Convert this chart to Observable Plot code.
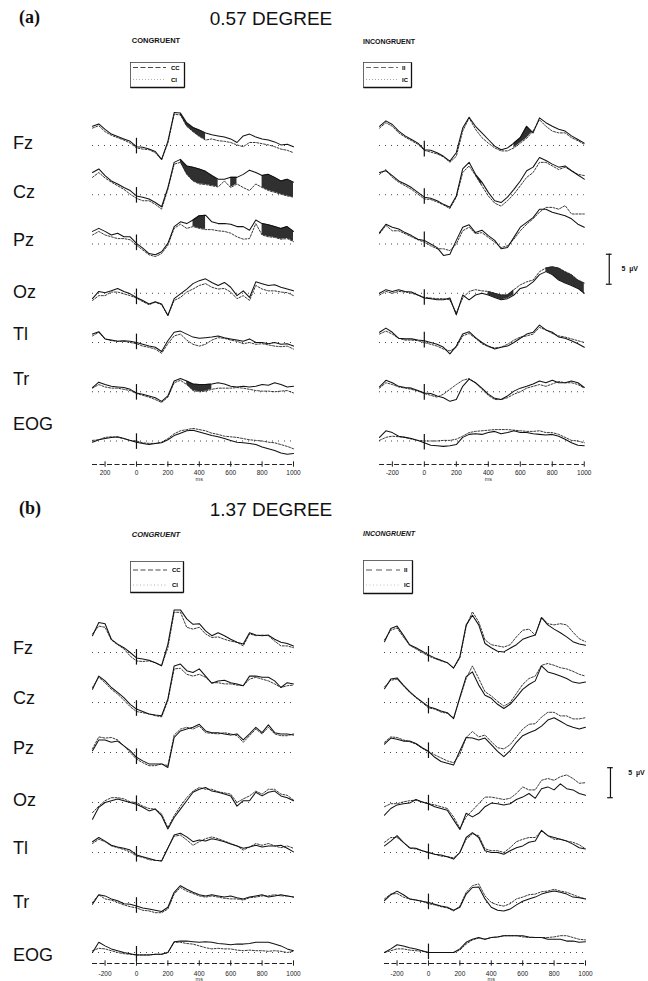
<!DOCTYPE html>
<html><head><meta charset="utf-8">
<script src="https://cdn.jsdelivr.net/npm/d3@7"></script>
<script src="https://cdn.jsdelivr.net/npm/@observablehq/plot@0.6"></script>
<style>
html,body{margin:0;padding:0;background:#fff;}
body{width:648px;height:981px;overflow:hidden;position:relative;font-family:"Liberation Sans",Arial,Helvetica,sans-serif;color:#111;}
#root{position:absolute;left:0;top:0;width:648px;height:981px;}
.t{position:absolute;white-space:nowrap;line-height:1;}
.abs{position:absolute;}
.abs svg{display:block;}
</style></head><body><div id="root"></div>
<script>
// ---------------- DATA ----------------
const T = [-280,-240,-200,-160,-120,-80,-40,0,40,80,120,160,200,240,280,320,360,400,440,480,520,560,600,640,680,720,760,800,840,880,920,960,1000];
const ROWS = ["Fz","Cz","Pz","Oz","Tl","Tr","EOG"];
const TICKS = [-200,0,200,400,600,800,1000];
const TICK_LABELS_A_LEFT = ["200","0","200","400","600","800","1000"];
const TICK_LABELS = ["-200","0","200","400","600","800","1000"];
const CAL_UV = 5;

// (a) 0.57 degree, congruent: CC (solid) and CI (dotted), µV
const aCC = [
 [3.2,3.6,2.7,1.9,1.5,1.1,0.7,-0.2,-0.3,-0.6,-1.0,-2.3,0.7,5.5,5.4,3.8,3.0,2.6,2.1,1.8,1.6,1.4,1.1,0.5,1.6,1.9,1.4,1.1,0.9,0.6,0.1,0.2,-0.2],
 [3.7,4.3,3.2,2.3,1.8,1.2,0.7,-0.2,-0.4,-0.7,-1.3,-2.0,1.2,5.4,5.9,4.8,4.6,4.3,3.9,3.2,2.6,2.6,2.9,2.9,3.4,4.1,3.7,3.2,3.4,2.9,2.3,2.6,2.1],
 [2.1,2.6,2.1,1.5,1.8,1.2,1.2,0.1,-0.7,-1.6,-1.8,-1.3,0.1,2.9,3.7,3.4,4.0,4.7,4.8,3.7,3.4,3.4,3.3,2.9,2.9,2.3,4.0,3.4,3.2,2.9,2.6,2.9,2.1],
 [-0.9,0.3,0.1,0.4,0.8,0.3,-0.1,-0.7,-1.2,-1.8,-1.4,-1.8,-3.7,-0.9,-0.1,0.7,1.6,2.1,2.4,1.8,1.3,1.8,1.0,-0.4,0.4,-0.7,1.9,1.6,1.3,1.4,1.0,0.7,0.4],
 [1.4,1.8,0.6,0.4,0.2,0.3,0.2,0,-0.3,-0.6,-0.8,-1.5,0.3,1.7,1.9,1.4,0.9,0.7,0.8,0.9,1.1,0.8,0.6,0.4,0.2,0.6,0,0,-0.2,0,-0.3,-0.2,-0.6],
 [0.7,1.6,1.2,0.9,0.8,0.7,0.4,-0.2,-0.4,-0.7,-1.0,-1.6,-0.7,1.8,2.2,1.8,1.3,1.2,1.2,1.3,1.5,1.3,0.9,0.8,0.9,0.8,0.9,1.2,1.1,1.5,1.2,0.8,0.9],
 [-0.2,0.2,0.4,0.6,0.7,0.4,0.1,-0.2,-0.4,-0.6,-0.4,-0.3,0.2,0.9,1.3,1.7,1.8,1.5,1.2,0.9,0.7,0.4,0.1,-0.2,-0.3,-0.4,-0.6,-1.0,-1.3,-1.6,-2.0,-2.2,-2.1]
];
const aCI = [
 [2.9,3.3,2.3,1.7,1.3,0.9,0.4,-0.4,-0.6,-0.7,-1.2,-2.4,0.4,5.2,5.1,3.2,2.3,1.5,0.9,1.1,0.8,0.7,0.5,0.1,-0.2,0.5,0.5,0.3,0.1,-0.2,-0.6,-0.8,-1.2],
 [2.9,3.7,2.8,2.1,1.5,0.9,0.1,-0.6,-1.0,-1.0,-1.6,-2.4,0.9,5.1,5.4,3.4,2.3,1.8,1.7,1.5,1.3,2.3,1.2,1.8,1.2,0.7,1.8,1.2,0.7,0.4,0.1,-0.2,-0.4],
 [1.5,2.1,1.5,1.2,0.9,0.9,0.7,-0.2,-1.0,-1.8,-2.1,-1.6,-0.2,2.6,3.3,2.6,2.9,2.6,2.4,2.4,2.2,2.1,1.8,1.2,0.8,0.9,3.4,1.5,1.2,1.1,0.8,0.9,0.4],
 [-1.2,-0.4,-0.4,0.2,0.2,-0.1,-0.4,-0.8,-1.4,-1.9,-1.5,-1.9,-3.7,-1.2,-0.7,0.2,0.7,1.3,1.6,1.0,0.7,0.8,0.2,-0.9,-0.4,-1.2,1.3,0.7,0.4,0.4,0.2,0.1,-0.4],
 [1.1,1.7,0.6,0.3,0.2,0.2,0,-0.2,-0.6,-0.8,-1.1,-1.8,-0.2,1.1,1.4,0.4,-0.3,-0.6,-0.3,0.4,0.8,0.7,0.4,0.2,-0.2,0,-0.3,-0.2,-0.4,-0.6,-0.7,-0.6,-1.1],
 [0.6,1.2,0.8,0.6,0.6,0.4,0.2,-0.3,-0.6,-0.9,-1.3,-1.8,-0.9,1.5,1.9,1.2,0.2,0,0.1,0.4,0.6,0.6,0.6,0.7,0.6,0.4,0.2,0.1,0.1,0,0.1,0.2,-0.2],
 [0.1,0.2,0.6,0.7,0.6,0.4,0.1,0,-0.3,-0.4,-0.4,-0.2,0.4,1.2,1.7,1.9,2.1,1.9,1.7,1.3,1.1,0.8,0.7,0.6,0.4,0.2,0.1,0,-0.2,-0.3,-0.6,-0.9,-1.3]
];
// (a) 0.57 degree, incongruent: II (solid) and IC (dotted)
const aII = [
 [3.2,4.1,3.5,2.4,1.6,1.0,0.4,-0.7,-0.8,-1.2,-1.8,-2.6,-1.2,2.9,4.7,3.2,2.1,1.0,-0.1,-0.7,-0.4,0.4,1.3,3.2,2.1,4.6,3.8,3.2,2.7,2.4,1.6,1.0,0.4],
 [3.7,4.0,3.2,2.3,1.8,1.2,0.4,-0.4,-0.6,-1.0,-1.6,-2.1,-0.2,4.3,5.4,3.4,2.1,0.4,-1.0,-1.3,-0.4,0.9,2.3,4.0,4.6,6.2,5.7,5.1,4.6,4.8,4.0,3.3,2.6],
 [1.9,3.3,2.8,2.5,1.9,1.4,0.8,0.6,0,-0.6,-1.9,-1.7,0.6,2.8,3.2,1.9,2.3,1.4,0.6,-0.8,-0.6,1.1,2.8,3.6,4.4,5.8,5.8,5.3,5.0,4.7,4.2,3.3,2.8],
 [0,0.6,0.3,0.6,0.3,0.2,-0.3,-0.8,-0.9,-1.1,-1.1,-0.8,-3.6,-0.3,-1.1,-0.3,0,-0.3,-0.7,-1.1,-0.9,-0.3,0.8,1.1,1.9,3.1,3.6,3.1,2.2,1.7,1.3,0.8,0],
 [1.7,2.4,1.7,0.7,0.6,0.6,0.4,0.3,0,-0.3,-0.8,-1.9,-0.6,1.4,1.8,0.8,0,-0.6,-1.1,-0.8,-0.6,0,0.7,1.4,1.7,2.9,2.1,1.7,0.9,0.7,0.3,-0.2,-0.8],
 [0.8,1.9,1.5,0.9,0.7,0.6,0.2,-0.2,-0.3,-0.7,-1.0,-1.6,-1.3,0.9,2.1,1.5,0.6,-0.4,-1.1,-1.3,-0.7,0.1,0.6,0.9,1.3,1.8,1.5,1.9,1.5,1.5,1.8,1.5,0.7],
 [0.6,1.7,1.4,0.8,0.6,0.4,0.1,-0.3,-0.7,-0.8,-0.9,-0.8,-0.6,0.6,1.1,1.2,1.1,1.4,1.6,1.2,1.4,1.7,1.4,1.4,1.2,1.1,1.0,1.1,0.8,0.3,-0.3,-0.7,-0.8]
];
const aIC = [
 [2.9,3.8,3.2,2.1,1.4,0.8,0.2,-0.8,-1.1,-1.4,-1.9,-2.8,-1.8,2.4,4.6,2.7,1.3,0.4,-0.4,-0.9,-0.9,-0.4,0.4,1.2,2.4,4.3,3.2,2.4,2.1,2.1,1.3,0.8,0.2],
 [3.4,4.2,2.9,2.1,1.5,0.9,0.1,-0.7,-0.8,-1.2,-1.7,-2.3,-0.4,3.7,4.8,3.2,1.5,-0.2,-1.4,-1.9,-1.0,0.1,1.5,2.9,3.7,5.4,5.4,4.8,4.2,4.6,4.0,3.4,3.2],
 [1.7,3.1,2.2,2.2,1.7,1.2,0.7,0.3,-0.3,-0.8,-0.8,-1.1,0,2.2,2.8,1.7,1.9,1.1,0.3,-0.6,-0.3,0.8,2.2,3.3,4.2,5.3,6.1,6.1,5.8,6.4,5.0,5.0,5.0],
 [-0.3,0.3,0,0.3,0.2,0,-0.3,-0.7,-0.8,-0.9,-0.9,-1.1,-3.3,-0.8,0.3,0.6,0.4,0.3,0,-0.3,-0.3,0.6,1.4,1.9,2.2,3.6,4.2,4.4,4.2,3.6,3.1,2.2,1.7],
 [1.4,1.9,1.4,0.7,0.4,0.4,0.3,0,-0.3,-0.6,-1.1,-1.4,-0.8,1.1,1.5,0.7,-0.2,-0.7,-0.9,-0.8,-0.3,0.4,0.9,1.1,1.4,2.5,2.1,1.5,1.1,0.9,0.6,0.3,0],
 [0.6,1.5,1.2,0.8,0.6,0.4,0.1,-0.3,-0.6,-0.9,-0.4,0.4,1.2,1.9,2.2,1.5,0.4,-0.6,-1.3,-1.3,-1.0,-0.4,0,0.6,0.9,1.2,0.9,1.3,1.7,1.5,1.5,1.2,0.6],
 [0.1,0.6,0.8,0.7,0.6,0.3,0.1,0,0,0,0.1,0.1,0.3,0.8,1.4,1.6,1.7,1.8,1.9,1.9,1.9,1.8,1.7,1.6,1.6,1.7,1.4,1.4,1.1,0.6,0.1,0,-0.3]
];
// (b) 1.37 degree, congruent
const bCC = [
 [2.8,5.0,4.8,2.2,1.4,0.8,0,-0.9,-1.1,-1.3,-1.7,-2.2,1.4,7.1,7.1,5.6,4.7,4.8,3.6,2.8,3.3,2.8,2.2,1.7,1.4,3.3,2.9,2.8,2.9,2.2,1.7,1.5,1.1],
 [2.2,4.4,3.6,2.5,1.7,0.8,-0.3,-1.1,-1.5,-1.9,-2.1,-2.2,0.6,6.1,6.4,5.3,5.0,5.6,4.4,3.2,3.6,3.7,3.3,3.1,2.8,4.4,4.4,4.2,4.2,3.6,2.5,3.3,3.1],
 [0.3,2.1,2.1,1.7,1.9,1.1,0.3,-0.8,-1.4,-1.9,-1.9,-1.9,-2.5,2.5,3.6,3.9,4.2,4.7,3.6,3.3,3.3,3.1,2.9,3.1,2.1,3.1,4.2,3.3,4.6,3.3,3.1,3.1,2.9],
 [-2.8,-0.8,0,0.3,0.6,0.3,0,-0.3,-0.8,-1.4,-1.1,-2.2,-4.4,-2.5,-1.1,0.3,1.7,2.2,2.5,1.9,1.7,1.4,1.1,-0.6,0.3,0.3,1.7,1.1,1.7,1.9,1.1,0.8,0.3],
 [1.8,2.5,1.9,1.2,0.9,0.7,0.4,-0.4,-0.7,-1.0,-1.3,-1.4,0.7,2.9,3.2,2.6,1.8,2.1,1.9,2.3,2.1,1.8,1.4,1.1,0.7,0.9,1.2,0.9,1.1,1.1,1.2,0.7,0.1],
 [-0.3,1.3,1.1,0.6,0.3,-0.2,-0.3,-0.6,-0.9,-1.1,-1.3,-1.5,-0.8,1.7,2.8,2.2,1.7,1.3,1.1,1.3,1.1,0.9,1.1,0.8,0.6,0.9,1.1,1.3,0.9,1.1,1.3,1.1,0.9],
 [0,1.7,1.1,0.6,0.3,0,-0.2,-0.4,-0.4,-0.4,-0.3,-0.3,0,1.8,1.9,1.9,1.8,1.7,1.8,1.7,1.5,1.4,1.3,1.4,1.4,1.5,1.7,1.7,1.7,1.4,1.1,0.6,0.3]
];
const bCI = [
 [3.1,4.4,4.2,2.1,1.3,0.6,-0.6,-1.4,-1.5,-1.4,-1.7,-2.2,0.8,6.7,6.7,4.2,3.9,4.2,3.1,2.5,2.6,2.2,1.9,1.7,1.1,3.1,2.8,2.9,2.8,1.9,1.1,1.1,0.8],
 [2.5,4.2,3.3,2.2,1.4,0.4,-0.7,-1.5,-1.7,-1.9,-2.2,-2.4,0.3,5.6,5.7,4.7,4.4,4.7,4.2,3.3,3.3,3.1,3.1,2.9,2.8,3.9,4.2,3.9,3.6,3.1,2.5,2.8,2.9],
 [0.6,2.6,2.4,2.5,2.1,1.1,0,-1.1,-1.7,-2.2,-2.2,-1.9,-2.2,2.9,3.9,4.2,3.9,4.4,3.3,3.2,3.1,3.3,3.1,2.8,1.7,2.8,3.9,3.1,4.2,3.1,2.8,2.8,3.1],
 [-1.7,-0.6,0.3,0.8,0.8,0.6,0.1,0,-0.6,-1.0,-1.1,-1.9,-4.2,-2.2,-0.6,0.8,1.9,2.5,2.2,2.2,1.8,1.6,1.4,0,0.6,1.1,1.9,1.4,2.2,2.2,1.4,1.2,0.4],
 [1.5,2.2,1.8,1.1,0.8,0.5,0.1,-0.6,-0.8,-1.2,-1.3,-1.4,0.8,2.7,2.9,2.1,1.2,1.8,2.3,2.6,2.3,1.9,1.5,1.1,0.4,0.9,1.5,1.2,1.5,1.1,0.8,1.1,0.7],
 [0,1.3,0.6,0.4,0,-0.4,-0.7,-0.9,-1.3,-1.4,-1.7,-1.7,-1.1,1.4,2.5,1.9,1.5,1.1,0.9,1.1,0.9,0.7,0.6,0.6,0.4,0.8,0.9,1.1,1.1,1.3,1.1,1.1,0.9],
 [0.3,0.7,0.6,0.3,0,-0.2,-0.3,-0.4,-0.4,-0.4,-0.3,-0.3,0,1.7,1.7,1.5,1.4,1.1,0.8,0.6,0.7,0.6,0.6,0.4,0.3,0.4,0.3,0.3,0.2,0.3,0.2,0,0.2]
];
// (b) 1.37 degree, incongruent
const bII = [
 [1.8,4.0,4.4,2.9,1.3,0.8,0.2,-0.4,-0.9,-1.3,-1.7,-2.6,-0.7,4.6,6.2,4.6,1.5,0.8,0.2,0.1,0.7,1.3,2.2,2.6,2.9,5.8,4.6,3.9,3.3,2.6,1.8,1.4,1.2],
 [2.3,3.9,4.1,2.9,1.8,0.9,0.1,-0.7,-1.0,-1.4,-1.7,-2.7,0.9,4.3,5.1,2.9,1.2,0.7,-0.3,-1.0,-0.3,0.9,2.2,3.0,3.6,6.1,5.1,4.8,4.4,4.0,3.4,3.2,3.4],
 [1.4,2.4,2.2,1.9,1.9,1.5,0.8,0.2,-0.8,-1.5,-1.8,-2.1,0.3,2.5,2.4,2.1,2.4,1.3,0.2,-0.7,0.3,1.7,2.8,3.3,3.7,4.4,5.4,5.8,5.2,4.6,4.2,3.9,4.2],
 [-2.1,-1.0,-0.4,-0.2,-0.1,0.5,0.1,-0.2,-0.7,-1.0,-1.3,-2.9,-4.5,-1.8,-2.4,-1.8,-0.7,-0.1,-0.2,-0.4,-0.2,0.5,0.9,1.5,0.7,2.3,2.6,2.1,3.1,2.3,2.1,1.5,1.2],
 [1.1,1.9,2.8,1.7,0.8,0.7,0.3,0,-0.3,-0.4,-0.7,-1.1,0,2.5,3.3,2.5,0.3,0,0,-0.3,0.3,0.8,1.1,1.7,1.9,3.7,2.8,2.5,2.2,1.9,1.4,0.8,0.6],
 [0.3,1.3,1.9,1.3,0.6,0.4,0.2,0,-0.3,-0.6,-0.8,-1.3,-0.8,1.4,2.5,2.6,0.6,-0.8,-1.3,-1.4,-1.1,-0.4,0.2,0.6,0.9,1.4,1.7,1.9,1.7,1.4,0.9,0.8,0.6],
 [0,0.6,1.3,1.1,0.8,0.6,0.3,0,0,0,0,0,0.6,1.7,2.2,2.5,2.2,2.5,2.6,2.8,2.8,2.8,2.8,2.6,2.5,2.5,2.2,2.2,2.2,1.9,1.9,1.7,1.8]
];
const bIC = [
 [2.1,3.7,4.1,2.6,1.2,0.6,0,-0.6,-1.0,-1.4,-1.7,-2.6,-0.9,4.3,6.8,5.1,2.1,1.3,1.1,0.9,1.3,2.6,3.7,3.9,2.9,5.9,4.8,4.6,4.8,4.6,3.4,2.3,1.8],
 [2.6,3.7,3.9,2.8,1.7,0.8,0,-0.9,-1.1,-1.6,-1.8,-2.6,0.7,4.0,6.1,4.0,1.8,1.1,0.2,-0.6,0,1.5,3.0,4.0,4.4,6.2,6.5,6.2,5.8,5.6,5.2,4.7,4.4],
 [1.7,2.6,2.5,2.1,1.8,1.4,0.7,0.1,-0.4,-0.9,-1.4,-1.7,-0.3,2.5,3.5,2.6,2.9,1.8,0.8,0.6,1.3,2.6,3.9,4.7,4.8,5.9,6.7,6.7,6.1,6.1,5.6,5.6,5.8],
 [-0.7,-0.2,-0.2,0.1,0.3,0.4,0.1,-0.2,-0.4,-0.7,-1.0,-2.4,-4.3,-2.4,-1.3,-0.2,0.9,0.9,0.7,0.5,0.7,1.5,2.6,2.1,2.1,3.7,4.0,3.7,4.3,4.6,4.0,3.2,3.3],
 [1.7,2.5,2.5,1.7,0.7,0.6,0.3,0,-0.3,-0.6,-0.7,-0.9,0,2.2,3.1,2.8,0.6,0.3,0.3,0,0.8,1.8,2.2,2.5,2.5,3.6,2.8,2.2,2.2,1.9,1.7,1.3,0.6],
 [0.6,1.4,1.5,0.9,0.6,0.4,0.2,-0.2,-0.4,-0.7,-0.9,-1.4,-0.6,1.7,2.8,3.1,1.1,0,-0.4,-0.6,-0.2,0.6,0.9,1.3,1.4,1.8,1.9,2.2,1.9,1.7,1.3,0.9,0.6],
 [0,0.3,0.6,0.6,0.4,0.3,0.2,0,0,0,0,0,0.4,1.4,2.1,2.4,2.2,2.5,2.6,2.8,2.8,2.8,2.6,2.5,2.5,2.5,2.5,2.6,2.8,2.8,2.5,2.2,2.1]
];
// significant-difference (shaded) intervals: [electrode, from ms, to ms]
const SHADE_A_CONG = [["Fz",280,440],["Cz",280,520],["Cz",600,640],["Cz",800,1000],["Pz",360,440],["Pz",800,1000],["Tr",320,480]];
const SHADE_A_INC = [["Fz",560,680],["Cz",320,360],["Oz",160,200],["Oz",400,560],["Oz",760,1000]];
const SHADE_B = [];

// ---------------- LAYOUT ----------------
const FONT = '"Liberation Sans", Arial, Helvetica, sans-serif';
const root = document.getElementById("root");

function txt(s, x, y, css, anchor) {
  const d = document.createElement("div");
  d.className = "t";
  d.textContent = s;
  const tx = anchor === "middle" ? "-50%" : anchor === "end" ? "-100%" : "0";
  d.style.left = x + "px"; d.style.top = y + "px";
  d.style.transform = `translate(${tx},-50%)`;
  d.style.cssText += css;
  root.appendChild(d);
}
function place(node, x, y) {
  const w = document.createElement("div");
  w.className = "abs";
  w.style.left = x + "px"; w.style.top = y + "px";
  w.appendChild(node);
  root.appendChild(w);
}

const COLS = [
  {cc: aCC, ci: aCI, shades: SHADE_A_CONG, x0: 92, x1: 293, top: 115, rowH: 49.25, axisY: 464, lab: 8, ms: 15, ticks: TICK_LABELS_A_LEFT},
  {cc: aII, ci: aIC, shades: SHADE_A_INC, x0: 379.2, x1: 584, top: 115, rowH: 49.25, axisY: 464, lab: 8, ms: 15, ticks: TICK_LABELS,
   cal: {t: 1156, v0: 1.5, tt: 1232, tv: 4.0}},
  {cc: bCC, ci: bCI, shades: SHADE_B, x0: 92, x1: 293, top: 621.7, rowH: 50, axisY: 963, lab: 10, ms: 16, ticks: TICK_LABELS},
  {cc: bII, ci: bIC, shades: SHADE_B, x0: 384, x1: 585, top: 621.7, rowH: 50, axisY: 963, lab: 10, ms: 16, ticks: TICK_LABELS,
   cal: {t: 1159, v0: 0.8, tt: 1272, tv: 5.0}}
];
const Y_HI = 5;
const PX_PER_UV = 6;

COLS.forEach(c => {
  const rows = [];
  ROWS.forEach((r, i) => T.forEach((t, j) => rows.push({row: r, t, a: c.cc[i][j], b: c.ci[i][j]})));
  const shade = [];
  c.shades.forEach(([r, t0, t1], k) => rows.filter(d => d.row === r && d.t >= t0 && d.t <= t1).forEach(d => shade.push({...d, seg: k})));
  const i0 = T.indexOf(0);
  const onset = ROWS.map((r, i) => ({row: r, v: c.cc[i][i0]}));
  const right = c.cal ? 648 : c.x1;
  const W = right - c.x0;
  const mR = right - c.x1;
  const H = c.rowH * ROWS.length;
  const yLo = Y_HI - c.rowH / PX_PER_UV;
  const marks = [
    Plot.ruleY([0], {stroke: "#444", strokeWidth: 1, strokeDasharray: "1,5"}),
    Plot.areaY(shade, {x: "t", y1: "b", y2: "a", z: "seg", fy: "row", fill: "#1e1e1e", fillOpacity: 0.92}),
    Plot.lineY(rows, {x: "t", y: "b", z: "row", fy: "row", stroke: "#222", strokeWidth: 0.9, strokeDasharray: "2,1.5"}),
    Plot.lineY(rows, {x: "t", y: "a", z: "row", fy: "row", stroke: "#111", strokeWidth: 1.05}),
    Plot.ruleX(onset, {x: () => 0, y1: d => d.v - 1.2, y2: d => d.v + 1.4, fy: "row", stroke: "#111", strokeWidth: 1.2})
  ];
  if (c.cal) {
    const k = c.cal;
    const cd = [{row: "Oz"}];
    marks.push(
      Plot.ruleX(cd, {x: () => k.t, y1: () => k.v0, y2: () => k.v0 + CAL_UV, fy: "row", stroke: "#111", strokeWidth: 1.2}),
      Plot.ruleY(cd, {y: () => k.v0, x1: () => k.t - 18, x2: () => k.t + 18, fy: "row", stroke: "#111", strokeWidth: 1.2}),
      Plot.ruleY(cd, {y: () => k.v0 + CAL_UV, x1: () => k.t - 18, x2: () => k.t + 18, fy: "row", stroke: "#111", strokeWidth: 1.2}),
      Plot.text(cd, {x: () => k.tt, y: () => k.tv, text: () => "5  µV", fy: "row", textAnchor: "start", fontSize: 7, fontWeight: "bold", fill: "#111"})
    );
  }
  const wave = Plot.plot({
    width: W, height: H,
    marginTop: 0, marginBottom: 0, marginLeft: 0, marginRight: mR,
    x: {domain: [-280, 1000], axis: null},
    y: {domain: [yLo, Y_HI], axis: null},
    fy: {domain: ROWS, axis: null, padding: 0, round: false},
    facet: {marginTop: 0, marginBottom: 0, marginLeft: 0, marginRight: 0},
    style: {background: "transparent", overflow: "visible", fontFamily: FONT},
    marks
  });
  place(wave, c.x0, c.top);

  const axis = Plot.plot({
    width: W, height: 30,
    marginTop: 0, marginBottom: 0, marginLeft: 0, marginRight: mR,
    x: {domain: [-280, 1000], axis: null},
    y: {domain: [-8, 2], range: [30, 0], axis: null},
    style: {background: "transparent", overflow: "visible", fontFamily: FONT},
    marks: [
      Plot.ruleY([0], {stroke: "#222", strokeWidth: 1, strokeDasharray: "5,2.5"}),
      Plot.ruleX(TICKS, {y1: -0.9, y2: 0.9, stroke: "#222", strokeWidth: 1}),
      Plot.text(TICKS, {x: d => d, y: -c.lab / 3, text: (d, i) => c.ticks[i], fontSize: 6.5, fill: "#222"}),
      Plot.text(["ms"], {x: () => 400, y: -c.ms / 3, text: d => d, fontSize: 5.5, fill: "#333"})
    ]
  });
  place(axis, c.x0, c.axisY - 6);
});

// ---------------- TEXT ----------------
const ROWLAB_A = [143, 192, 240, 292, 334, 379, 424];
const ROWLAB_B = [648, 698, 748, 800, 848, 902, 955];
ROWS.forEach((r, i) => {
  txt(r, 13, ROWLAB_A[i], `font-size:18px;font-family:${FONT};`);
  txt(r, 13, ROWLAB_B[i], `font-size:18px;font-family:${FONT};`);
});
const SERIF = '"Liberation Serif", "Times New Roman", serif';
txt("(a)", 19, 17, `font-size:18px;font-weight:bold;font-family:${SERIF};`);
txt("0.57 DEGREE", 271, 18, `font-size:19px;font-family:${FONT};`, "middle");
txt("CONGRUENT", 156, 41, `font-size:7.5px;font-weight:bold;font-family:${FONT};`, "middle");
txt("INCONGRUENT", 389, 41, `font-size:7px;font-weight:bold;font-family:${FONT};`, "middle");
txt("(b)", 19, 508, `font-size:18px;font-weight:bold;font-family:${SERIF};`);
txt("1.37 DEGREE", 271, 509, `font-size:19px;font-family:${FONT};`, "middle");
txt("CONGRUENT", 156, 535, `font-size:7.5px;font-weight:bold;font-style:italic;font-family:${FONT};`, "middle");
txt("INCONGRUENT", 389, 533, `font-size:7px;font-weight:bold;font-style:italic;font-family:${FONT};`, "middle");

// legend boxes
const NS = "http://www.w3.org/2000/svg";
function legendBox(x, y, w, h, items) {
  const s = document.createElementNS(NS, "svg");
  s.setAttribute("width", w + 2); s.setAttribute("height", h + 2);
  let html = `<rect x="0.5" y="0.5" width="${w}" height="${h}" fill="none" stroke="#444" stroke-width="0.8"/>`;
  html += `<line x1="0.5" y1="${h + 0.5}" x2="${w + 0.5}" y2="${h + 0.5}" stroke="#111" stroke-width="1.6"/>`;
  html += `<line x1="${w + 0.5}" y1="0.5" x2="${w + 0.5}" y2="${h + 0.5}" stroke="#111" stroke-width="1.3"/>`;
  items.forEach(it => {
    html += `<line x1="3" y1="${it.y}" x2="${it.x2}" y2="${it.y}" stroke="${it.stroke}" stroke-width="0.9" stroke-dasharray="${it.dash}"/>`;
    html += `<text x="${it.tx}" y="${it.y}" dy="0.35em" font-size="6" font-weight="bold" font-family='Liberation Sans, Arial, sans-serif' fill="#000">${it.label}</text>`;
  });
  s.innerHTML = html;
  place(s, x, y);
}
legendBox(130, 62, 54, 25, [
  {label: "CC", y: 5.5, x2: 36, tx: 41, dash: "5,2.5", stroke: "#333"},
  {label: "CI", y: 17.5, x2: 36, tx: 41, dash: "1,2", stroke: "#aaa"}
]);
legendBox(363, 62, 48, 25, [
  {label: "II", y: 5.5, x2: 35, tx: 39, dash: "5,2.5", stroke: "#555"},
  {label: "IC", y: 17.5, x2: 35, tx: 39, dash: "1,2", stroke: "#999"}
]);
legendBox(130, 561, 53, 31, [
  {label: "CC", y: 9, x2: 37, tx: 42, dash: "5,2.5", stroke: "#333"},
  {label: "CI", y: 24, x2: 37, tx: 42, dash: "1,2.5", stroke: "#aaa"}
]);
legendBox(363, 560, 49, 33, [
  {label: "II", y: 10, x2: 37, tx: 41, dash: "6,4", stroke: "#444"},
  {label: "IC", y: 25, x2: 37, tx: 41, dash: "1,2.5", stroke: "#bbb"}
]);
</script></body></html>
